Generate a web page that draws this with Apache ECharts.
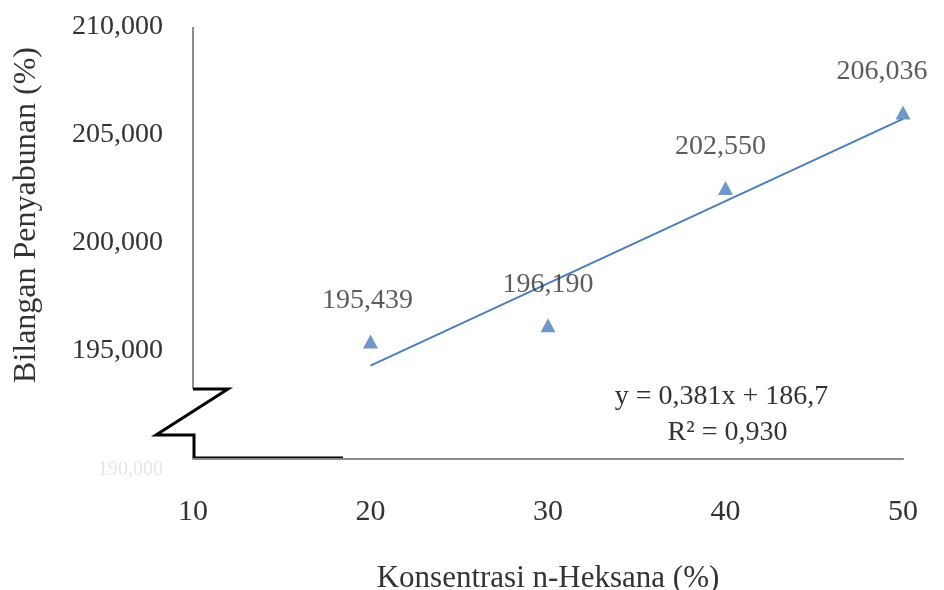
<!DOCTYPE html>
<html>
<head>
<meta charset="utf-8">
<script src="https://cdn.jsdelivr.net/npm/echarts@6/dist/echarts.min.js"></script>
<style>
html,body{margin:0;padding:0;background:#fff;}
#chart{width:944px;height:590px;}
</style>
</head>
<body>
<div id="chart"></div>
<script>
// Data
const concentrations = [20, 30, 40, 50];
const saponification = [195439, 196190, 202550, 206036];
const pointLabels = ['195,439', '196,190', '202,550', '206,036'];
const trendX = [20, 50];
const trendY = [194320, 205750];
const yTicks = [190000, 195000, 200000, 205000, 210000];
const xTicks = [10, 20, 30, 40, 50];
const equationText = 'y = 0,381x + 186,7';
const r2Text = 'R\u00B2 = 0,930';
const xTitle = 'Konsentrasi n-Heksana (%)';
const yTitle = 'Bilangan Penyabunan (%)';

const FONT = '"Liberation Serif", "Times New Roman", serif';
const TXT = '#333333';
const BLUE = '#4a7ebb';

const chart = echarts.init(document.getElementById('chart'), null, {renderer: 'canvas'});

function fmt(v) {
  return v.toLocaleString('en-US');
}

const labelOffsets = [[-3, 0], [0, 0], [-5, 0], [-21, 0]];

chart.setOption({
  backgroundColor: '#fff',
  animation: false,
  grid: {left: 193, right: 41, top: 27, bottom: 131, containLabel: false, outerBoundsMode: 'none'},
  xAxis: {
    type: 'value',
    min: xTicks[0], max: xTicks[xTicks.length - 1], interval: 10,
    axisLine: {show: true, lineStyle: {color: '#8c8c8c', width: 2}},
    axisTick: {show: false},
    splitLine: {show: false},
    axisLabel: {
      margin: 38, fontSize: 30, fontFamily: FONT, color: TXT,
      formatter: v => String(v)
    },
    name: xTitle, nameLocation: 'middle', nameGap: 104,
    nameTextStyle: {fontSize: 31, fontFamily: FONT, color: TXT}
  },
  yAxis: {
    type: 'value',
    min: yTicks[0], max: yTicks[yTicks.length - 1], interval: 5000,
    axisLine: {show: false},
    axisTick: {show: false},
    splitLine: {show: false},
    axisLabel: {
      margin: 30, fontSize: 28, fontFamily: FONT, color: TXT,
      formatter: v => v === yTicks[0] ? '{g|' + fmt(v) + '}' : fmt(v),
      rich: {g: {color: '#e6e6e6', fontSize: 20, fontFamily: FONT, padding: [22, 0, 0, 0]}}
    },
    name: yTitle, nameLocation: 'middle', nameGap: 150, nameRotate: 90,
    nameTextStyle: {fontSize: 32, fontFamily: FONT, color: TXT, padding: [0, 0, 0, 56]}
  },
  series: [
    {
      type: 'line',
      data: trendX.map((x, i) => [x, trendY[i]]),
      showSymbol: false,
      lineStyle: {color: BLUE, width: 2},
      z: 2
    },
    {
      type: 'scatter',
      data: concentrations.map((x, i) => ({
        value: [x, saponification[i]],
        label: {offset: labelOffsets[i]}
      })),
      symbol: 'triangle',
      symbolSize: [15, 14],
      itemStyle: {color: '#4a7ebb'},
      label: {
        show: true, position: 'top', distance: 20,
        fontSize: 28, fontFamily: FONT, color: TXT,
        formatter: p => pointLabels[p.dataIndex]
      },
      z: 3
    }
  ]
});

// Axis break decoration and trendline equation
const ax = chart.convertToPixel({xAxisIndex: 0}, xTicks[0]);
const yTop = chart.convertToPixel({yAxisIndex: 0}, yTicks[yTicks.length - 1]);
const yBot = chart.convertToPixel({yAxisIndex: 0}, yTicks[0]) - 1;
const brTop = yBot - 69;
const brBot = yBot - 23;
const eqX = chart.convertToPixel({xAxisIndex: 0}, 40) - 4;

chart.setOption({
  graphic: [
    {type: 'line', shape: {x1: ax, y1: yTop, x2: ax, y2: brTop}, style: {stroke: '#8c8c8c', lineWidth: 2}},
    {type: 'polyline', shape: {points: [[ax, brTop], [ax + 35, brTop], [ax - 37, brBot], [ax + 1, brBot], [ax + 1, yBot], [ax + 150, yBot]]},
      style: {stroke: '#000', lineWidth: 3, fill: null}},
    {type: 'text', x: eqX, y: brTop + 8, style: {text: equationText, font: '28px ' + FONT, fill: TXT, textAlign: 'center', textVerticalAlign: 'middle'}},
    {type: 'text', x: eqX + 6, y: brTop + 44, style: {text: r2Text, font: '28px ' + FONT, fill: TXT, textAlign: 'center', textVerticalAlign: 'middle'}}
  ]
});
</script>
</body>
</html>
